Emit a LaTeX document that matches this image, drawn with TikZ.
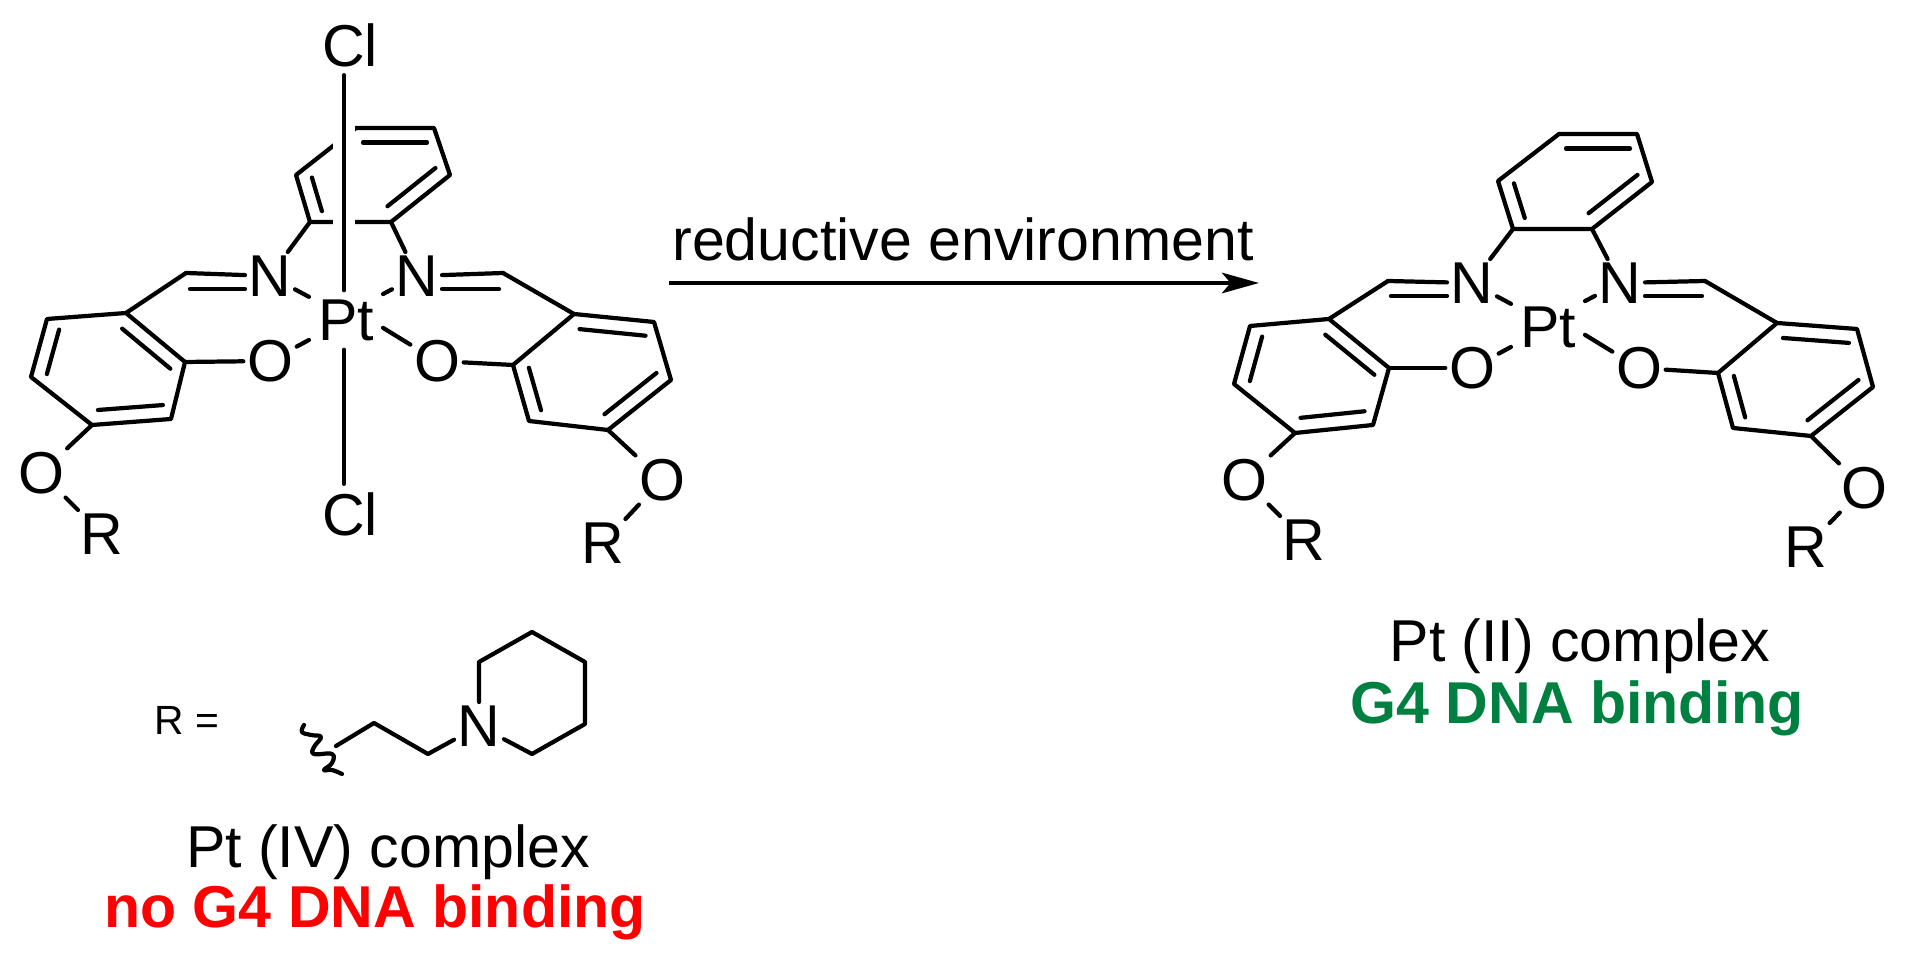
\documentclass[tikz,border=0pt]{standalone}
\usepackage{fontspec}
\setmainfont{Liberation Sans}
\usetikzlibrary{arrows.meta, calc}
\definecolor{bindgreen}{HTML}{008040}
\tikzset{
  bond/.style={line width=1.2pt, line cap=round, line join=round},
  atom/.style={font=\fontsize{16.8}{18}\selectfont, inner sep=0.85pt},
  metal/.style={atom, inner sep=2.4pt},
  halogen/.style={atom, inner sep=2.2pt},
  caption/.style={font=\fontsize{16.8}{18}\selectfont, anchor=base, inner sep=0pt},
  verdict/.style={caption, font=\fontsize{16.8}{18}\selectfont\bfseries},
}
\newcommand{\innerbond}[2]{
  \draw[bond, shorten <=2pt, shorten >=2pt]
    ($(#1)!0.145cm!90:(#2)$) -- ($(#2)!0.145cm!-90:(#1)$);
}
\begin{document}
\begin{tikzpicture}[x=0.01cm, y=-0.01cm]
  \useasboundingbox (0,0) rectangle (1906,962);

  % Pt(IV) complex
  \node[metal]   (pt)  at (346,320) {Pt};
  \node[halogen] (clT) at (350,45)  {Cl};
  \node[halogen] (clB) at (350,514) {Cl};
  \node[atom] (nL)  at (270,276) {N};
  \node[atom] (nR)  at (417,276) {N};
  \node[atom] (oL)  at (270,361) {O};
  \node[atom] (oR)  at (437,361) {O};
  \node[atom] (oLo) at (41,473)  {O};
  \node[atom] (oRo) at (662,480) {O};
  \node[atom] (rL)  at (102,534) {R};
  \node[atom] (rR)  at (603,543) {R};

  \coordinate (ta) at (310,222);
  \coordinate (tb) at (391,222);
  \coordinate (tc) at (450,175);
  \coordinate (td) at (434,128);
  \coordinate (te) at (356,128);
  \coordinate (tf) at (296,175);
  \coordinate (la) at (126,313);
  \coordinate (lb) at (185,362);
  \coordinate (lc) at (171,419);
  \coordinate (ld) at (92,425);
  \coordinate (le) at (31,377);
  \coordinate (lf) at (47,319);
  \coordinate (ra) at (574,314);
  \coordinate (rb) at (513,365);
  \coordinate (rc) at (529,421);
  \coordinate (rd) at (608,430);
  \coordinate (re) at (671,380);
  \coordinate (rf) at (654,322);
  \coordinate (imL)  at (186,273);
  \coordinate (imR)  at (503,273);
  \coordinate (imLb) at (190,289);
  \coordinate (imRb) at (499,289);
  \coordinate (axis) at (344,320);

  \draw[bond] (ta) -- (tb) -- (tc) -- (td) -- (te) -- (tf) -- cycle;
  \draw[bond] (la) -- (lb) -- (lc) -- (ld) -- (le) -- (lf) -- cycle;
  \draw[bond] (ra) -- (rb) -- (rc) -- (rd) -- (re) -- (rf) -- cycle;
  \foreach \u/\v in {tf/ta, tb/tc, td/te, lb/la, ld/lc, lf/le, rf/ra, rb/rc, rd/re}
    {\innerbond{\u}{\v}}

  \draw[white, line width=6.2pt, shorten <=-1pt, shorten >=-1.5pt] (axis |- te) -- (axis |- ta);
  \draw[bond] (axis |- clT.south) -- (axis |- pt.north);
  \draw[bond] (axis |- pt.south) -- (axis |- clB.north);

  \foreach \u/\v in {ta/nL, tb/nR, imL/nL, imR/nR, la/imL, ra/imR, lb/oL, rb/oR,
                     ld/oLo, rd/oRo, oLo/rL, oRo/rR, nL/pt.148, nR/pt.35, oL/pt, oR/pt.-12}
    \draw[bond] (\u) -- (\v);
  \draw[bond] (imLb) -- (imLb -| nL.west);
  \draw[bond] (imRb) -- (imRb -| nR.east);

  % Pt(II) complex
  \node[metal] (pt2)  at (1548,327) {Pt};
  \node[atom] (nL2)  at (1472,283) {N};
  \node[atom] (nR2)  at (1620,283) {N};
  \node[atom] (oL2)  at (1472,368) {O};
  \node[atom] (oR2)  at (1639,368) {O};
  \node[atom] (oLo2) at (1244,480) {O};
  \node[atom] (oRo2) at (1864,488) {O};
  \node[atom] (rL2)  at (1304,540) {R};
  \node[atom] (rR2)  at (1806,547) {R};

  \coordinate (ta2) at (1513,229);
  \coordinate (tb2) at (1592,229);
  \coordinate (tc2) at (1652,182);
  \coordinate (td2) at (1637,134);
  \coordinate (te2) at (1559,134);
  \coordinate (tf2) at (1498,181);
  \coordinate (la2) at (1329,319);
  \coordinate (lb2) at (1389,368);
  \coordinate (lc2) at (1373,425);
  \coordinate (ld2) at (1295,433);
  \coordinate (le2) at (1234,384);
  \coordinate (lf2) at (1250,326);
  \coordinate (ra2) at (1777,323);
  \coordinate (rb2) at (1718,373);
  \coordinate (rc2) at (1733,428);
  \coordinate (rd2) at (1811,436);
  \coordinate (re2) at (1873,387);
  \coordinate (rf2) at (1857,329);
  \coordinate (imL2)  at (1388,281);
  \coordinate (imR2)  at (1705,281);
  \coordinate (imLb2) at (1391,296);
  \coordinate (imRb2) at (1702,296);

  \draw[bond] (ta2) -- (tb2) -- (tc2) -- (td2) -- (te2) -- (tf2) -- cycle;
  \draw[bond] (la2) -- (lb2) -- (lc2) -- (ld2) -- (le2) -- (lf2) -- cycle;
  \draw[bond] (ra2) -- (rb2) -- (rc2) -- (rd2) -- (re2) -- (rf2) -- cycle;
  \foreach \u/\v in {tf2/ta2, tb2/tc2, td2/te2, lb2/la2, ld2/lc2, lf2/le2, rf2/ra2, rb2/rc2, rd2/re2}
    {\innerbond{\u}{\v}}

  \foreach \u/\v in {ta2/nL2, tb2/nR2, imL2/nL2, imR2/nR2, la2/imL2, ra2/imR2, lb2/oL2, rb2/oR2,
                     ld2/oLo2, rd2/oRo2, oLo2/rL2, oRo2/rR2, nL2/pt2.148, nR2/pt2.35, oL2/pt2, oR2/pt2.-12}
    \draw[bond] (\u) -- (\v);
  \draw[bond] (imLb2) -- (imLb2 -| nL2.west);
  \draw[bond] (imRb2) -- (imRb2 -| nR2.east);

  % reaction arrow
  \coordinate (arrowS) at (669,283);
  \coordinate (arrowE) at (1259,283);
  \draw[line width=1.3pt, -{Stealth[length=10.5pt, width=5.8pt, inset=2.4pt]}] (arrowS) -- (arrowE);
  \node[caption] (cond) at (963,261) {reductive environment};

  % substituent R
  \node[anchor=base west, inner sep=0pt, font=\fontsize{11.6}{13}\selectfont] (rDef) at (154,735) {R =};
  \node[atom] (nP) at (479,726) {N};
  \coordinate (p0) at (336,746);
  \coordinate (p1) at (374,723);
  \coordinate (p2) at (428,754);
  \coordinate (p3) at (532,754);
  \coordinate (p4) at (585,724);
  \coordinate (p5) at (585,662);
  \coordinate (p6) at (532,632);
  \coordinate (p7) at (479,662);
  \draw[bond] (p0) -- (p1) -- (p2) -- (nP);
  \draw[bond] (nP) -- (p3) -- (p4) -- (p5) -- (p6) -- (p7) -- (nP);
  \draw[bond] plot[smooth, tension=0.7] coordinates {(304,725) (302,732) (311,735) (321,737) (314,747) (314,754) (332,754) (332,763) (324,770) (332,770) (342,774)};

  % captions
  \node[caption] (nameL) at (388,868) {Pt (IV) complex};
  \node[verdict, text=red] (bindL) at (375,928) {no G4 DNA binding};
  \node[caption] (nameR) at (1580,662) {Pt (II) complex};
  \node[verdict, text=bindgreen] (bindR) at (1577,724) {G4 DNA binding};
\end{tikzpicture}
\end{document}
